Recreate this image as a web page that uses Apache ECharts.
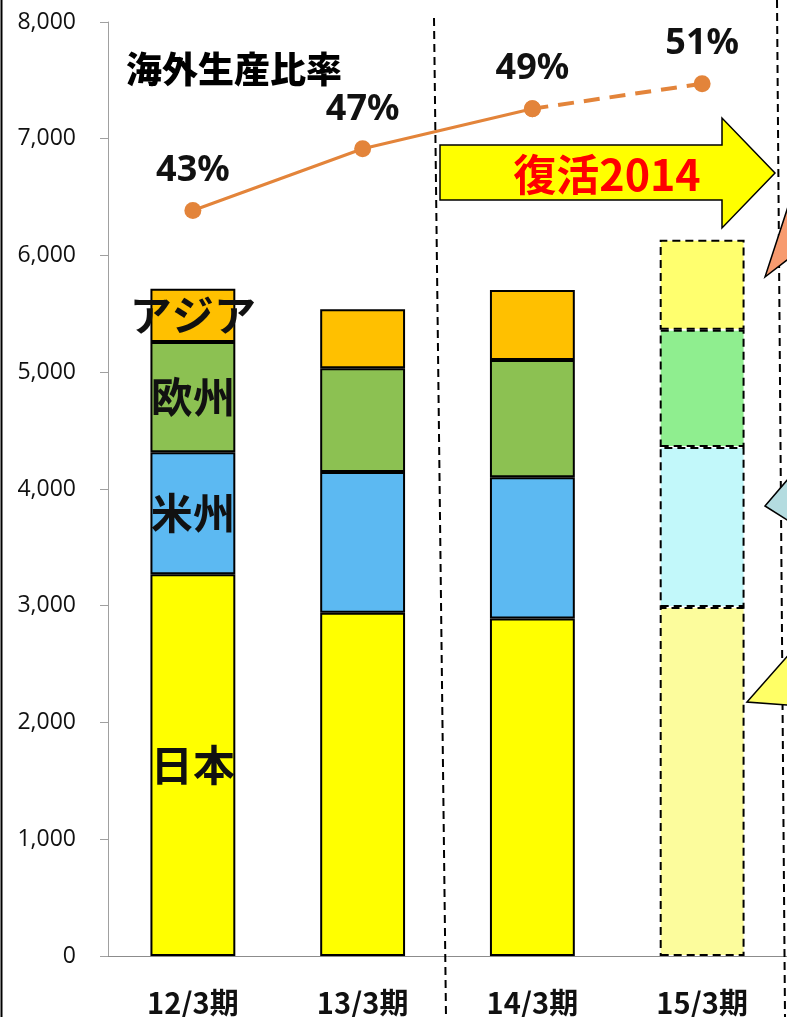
<!DOCTYPE html>
<html><head><meta charset="utf-8">
<script src="https://cdn.jsdelivr.net/npm/echarts@6/dist/echarts.min.js"></script>
<style>html,body{margin:0;padding:0;background:#fff}#c{width:787px;height:1017px}</style>
</head><body><div id="c"></div>
<script>
const categories = ['12/3期','13/3期','14/3期','15/3期'];
const japan    = [3270, 2940, 2890, 2990];
const americas = [1045, 1205, 1210, 1370];
const europe   = [945, 890, 1005, 1005];
const asia     = [455, 505, 600, 770];
const overseasRatio = [43.0, 46.7, 49.1, 50.6];
const yTicks = [0,1000,2000,3000,4000,5000,6000,7000,8000];
const segNames = ['日本','米州','欧州','アジア'];
const solidColors = ['#FFFF00','#5CB9F2','#8CC152','#FFC000'];
const planColors  = ['#FCFC9C','#C2F8FA','#8FEE8F','#FFFF6E'];

const chart = echarts.init(document.getElementById('c'));
const segData = [japan, americas, europe, asia];
const barSeries = segData.map((arr, s) => ({
  name: segNames[s], type: 'bar', stack: 'total', barWidth: '50%',
  itemStyle: { color: solidColors[s], borderColor: '#000', borderWidth: 2 },
  data: arr.map((v, i) => {
    const d = { value: v };
    if (i === 0) d.label = { show: true, position: 'inside', formatter: segNames[s], fontSize: 42, color: '#111', fontFamily: 'Noto Sans CJK JP', fontWeight: 'bold' };
    if (i === 3) d.itemStyle = { color: planColors[s], borderColor: '#000', borderWidth: 2, borderType: [8, 5] };
    return d;
  })
}));
const lineColor = '#E3843A';
const pctLabel = { fontSize: 36, fontWeight: 'bold', color: '#111', fontFamily: 'Noto Sans', position: 'top', distance: 13 };
chart.setOption({
  animation: false,
  grid: { left: 108, top: 22, width: 686, bottom: 61 },
  xAxis: { type: 'category', data: categories,
    axisLine: { lineStyle: { color: '#8c8c8c', width: 1 } },
    axisTick: { length: 7, lineStyle: { color: '#8c8c8c' } },
    axisLabel: { fontSize: 29, fontWeight: 'bold', color: '#111', fontFamily: 'Noto Sans CJK JP', margin: 32 } },
  yAxis: [
    { type: 'value', min: yTicks[0], max: yTicks[yTicks.length-1], interval: 1000,
      axisLine: { show: true, lineStyle: { color: '#a0a0a0' } },
      axisTick: { show: true, length: 8, lineStyle: { color: '#a0a0a0' } },
      splitLine: { show: false },
      axisLabel: { fontSize: 23, color: '#111', fontFamily: 'Open Sans', margin: 32,
        formatter: v => v.toLocaleString('en-US') } },
    { type: 'value', min: -1.7, max: 54.3, show: false }
  ],
  series: [
    ...barSeries,
    { type: 'line', yAxisIndex: 1, z: 5, data: overseasRatio.map((v,i) => i < 3 ? v : null),
      symbol: 'circle', symbolSize: 17, itemStyle: { color: lineColor },
      lineStyle: { color: lineColor, width: 3 },
      label: Object.assign({ show: true, formatter: p => Math.round(p.value) + '%' }, pctLabel) },
    { type: 'line', yAxisIndex: 1, z: 5, data: overseasRatio.map((v,i) => i >= 2 ? v : null),
      symbol: 'circle', symbolSize: 17, itemStyle: { color: lineColor },
      lineStyle: { color: lineColor, width: 4, type: [16, 10] },
      label: Object.assign({ show: true, formatter: p => p.dataIndex === 3 ? Math.round(p.value) + '%' : '' }, pctLabel) }
  ],
  graphic: [
    { type: 'line', shape: { x1: 1.5, y1: 0, x2: 1.5, y2: 1017 }, style: { stroke: '#000', lineWidth: 2 } },
    { type: 'line', z: 10, shape: { x1: 434, y1: 18, x2: 446, y2: 1017 }, style: { stroke: '#000', lineWidth: 2, lineDash: [8, 5] } },
    { type: 'line', z: 10, shape: { x1: 777, y1: 0, x2: 785, y2: 1017 }, style: { stroke: '#000', lineWidth: 2, lineDash: [8, 5] } },
    { type: 'polygon', z: 20, shape: { points: [[440,145],[722,145],[722,118],[775,173],[722,228],[722,200],[440,200]] },
      style: { fill: '#FFFF00', stroke: '#000', lineWidth: 1.5 } },
    { type: 'text', z: 21, x: 607, y: 175, style: { text: '復活2014', fill: '#FF0000', font: 'bold 43px "Noto Sans CJK JP"', textAlign: 'center', textVerticalAlign: 'middle' } },
    { type: 'text', z: 21, x: 126, y: 69, style: { text: '海外生産比率', fill: '#000', font: '900 36px "Noto Sans CJK JP"', textAlign: 'left', textVerticalAlign: 'middle' } },
    { type: 'polygon', z: 20, shape: { points: [[765,277],[800,170],[800,250]] }, style: { fill: '#F79B6F', stroke: '#000', lineWidth: 1.5 } },
    { type: 'polygon', z: 20, shape: { points: [[765,506],[800,465],[800,528]] }, style: { fill: '#B4DCE0', stroke: '#000', lineWidth: 1.5 } },
    { type: 'polygon', z: 20, shape: { points: [[747,702],[800,642],[800,706]] }, style: { fill: '#FFFF66', stroke: '#000', lineWidth: 1.5 } }
  ]
});
</script></body></html>
